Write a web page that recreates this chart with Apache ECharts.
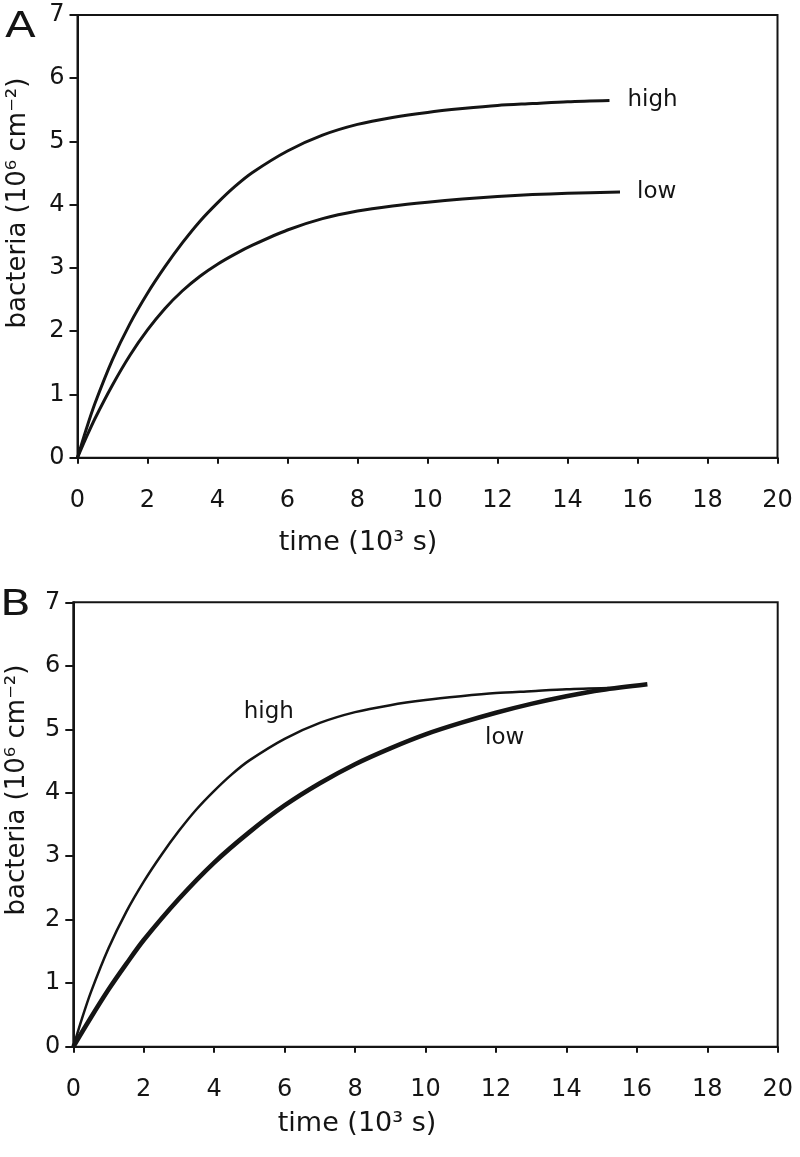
<!DOCTYPE html>
<html>
<head>
<meta charset="utf-8">
<script src="https://cdn.jsdelivr.net/npm/echarts@6/dist/echarts.min.js"></script>
<style>
html,body{margin:0;padding:0;background:#fff;}
#chart{width:800px;height:1157px;}
</style>
</head>
<body>
<div id="chart"></div>
<script>
// ---- data (time in 10^3 s, bacteria in 10^6 cm^-2) ----
const xTicks = [0, 2, 4, 6, 8, 10, 12, 14, 16, 18, 20];
const yTicks = [0, 1, 2, 3, 4, 5, 6, 7];

const timeHigh = [0, 0.25, 0.5, 1, 1.5, 2, 2.5, 3, 3.5, 4, 4.5, 5, 6, 7, 8, 9, 10, 11, 12, 13, 14, 15.2];
const valHigh  = [0, 0.45, 0.86, 1.55, 2.12, 2.6, 3.02, 3.4, 3.74, 4.03, 4.29, 4.51, 4.85, 5.1, 5.27, 5.38, 5.46, 5.52, 5.57, 5.6, 5.63, 5.65];

const timeLowA = [0, 0.25, 0.5, 1, 1.5, 2, 2.5, 3, 3.5, 4, 4.5, 5, 6, 7, 8, 9, 10, 11, 12, 13, 14, 15.5];
const valLowA  = [0, 0.32, 0.62, 1.15, 1.62, 2.02, 2.36, 2.64, 2.87, 3.06, 3.22, 3.36, 3.6, 3.78, 3.9, 3.98, 4.04, 4.09, 4.13, 4.16, 4.18, 4.2];

const timeLowB = [0, 0.5, 1, 1.5, 2, 3, 4, 5, 6, 7, 8, 9, 10, 11, 12, 13, 14, 15, 16.3];
const valLowB  = [0, 0.46, 0.9, 1.3, 1.68, 2.33, 2.9, 3.38, 3.8, 4.15, 4.45, 4.7, 4.92, 5.1, 5.26, 5.4, 5.52, 5.62, 5.71];

const seriesNames = ['high', 'low'];
// label anchor positions for panel B (data coordinates)
const labelHighB = [5.55, 5.27];
const labelLowB = [12.25, 4.86];

const panelLetters = ['A', 'B'];
const xTitle = 'time (10³ s)';
const yTitle = 'bacteria (10⁶ cm⁻²)';

// ---- chart ----
const FONT = 'DejaVu Sans';
const INK = '#141414';
const zip = (xs, ys) => xs.map((x, i) => [x, ys[i]]);

const grids = [
  {left: 77.5, top: 15, right: 22.5, bottom: 699.3},
  {left: 73.3, top: 602.3, right: 22.3, bottom: 110.3}
];

function xAxisFor(i) {
  return {
    type: 'value', gridIndex: i, min: 0, max: 20, interval: 2,
    axisLine: {show: true, onZero: false, lineStyle: {color: INK, width: 2}},
    axisTick: {show: true, length: 6, lineStyle: {color: INK, width: 2}},
    axisLabel: {color: INK, fontFamily: FONT, fontSize: 24, margin: 31},
    splitLine: {show: false}
  };
}
function yAxisFor(i) {
  return {
    type: 'value', gridIndex: i, min: 0, max: 7, interval: 1,
    axisLine: {show: true, onZero: false, lineStyle: {color: INK, width: 2}},
    axisTick: {show: true, length: 8, lineStyle: {color: INK, width: 2}},
    axisLabel: {color: INK, fontFamily: FONT, fontSize: 24, margin: 13},
    splitLine: {show: false}
  };
}

const endLabelStyle = {color: INK, fontFamily: FONT, fontSize: 23};

const option = {
  animation: false,
  backgroundColor: '#fff',
  grid: grids.map(g => Object.assign({show: true, borderColor: INK, borderWidth: 2, backgroundColor: 'transparent'}, g)),
  xAxis: [xAxisFor(0), xAxisFor(1)],
  yAxis: [yAxisFor(0), yAxisFor(1)],
  series: [
    {
      name: seriesNames[0], type: 'line', xAxisIndex: 0, yAxisIndex: 0,
      data: zip(timeHigh, valHigh), smooth: 0.3, showSymbol: false,
      lineStyle: {color: INK, width: 3},
      endLabel: Object.assign({show: true, formatter: seriesNames[0], distance: 18}, endLabelStyle)
    },
    {
      name: seriesNames[1], type: 'line', xAxisIndex: 0, yAxisIndex: 0,
      data: zip(timeLowA, valLowA), smooth: 0.3, showSymbol: false,
      lineStyle: {color: INK, width: 3},
      endLabel: Object.assign({show: true, formatter: seriesNames[1], distance: 17}, endLabelStyle)
    },
    {
      name: seriesNames[0] + ' B', type: 'line', xAxisIndex: 1, yAxisIndex: 1,
      data: zip(timeHigh, valHigh), smooth: 0.3, showSymbol: false,
      lineStyle: {color: INK, width: 2.5},
      markPoint: {
        symbol: 'circle', symbolSize: 0, silent: true,
        data: [{coord: labelHighB, value: seriesNames[0]}],
        label: {show: true, position: 'inside', formatter: seriesNames[0], color: INK, fontFamily: FONT, fontSize: 23}
      }
    },
    {
      name: seriesNames[1] + ' B', type: 'line', xAxisIndex: 1, yAxisIndex: 1,
      data: zip(timeLowB, valLowB), smooth: 0.3, showSymbol: false,
      lineStyle: {color: INK, width: 4.6},
      markPoint: {
        symbol: 'circle', symbolSize: 0, silent: true,
        data: [{coord: labelLowB, value: seriesNames[1]}],
        label: {show: true, position: 'inside', formatter: seriesNames[1], color: INK, fontFamily: FONT, fontSize: 23}
      }
    }
  ],
  graphic: [
    {type: 'text', x: 5, y: 10, scaleX: 1.25, style: {text: panelLetters[0], fontFamily: FONT, fontSize: 36, fill: INK}},
    {type: 'text', x: 0, y: 588, scaleX: 1.25, style: {text: panelLetters[1], fontFamily: FONT, fontSize: 36, fill: INK}},
    {type: 'text', x: 358, y: 543, style: {text: xTitle, fontFamily: FONT, fontSize: 27, fill: INK, align: 'center', verticalAlign: 'middle'}},
    {type: 'text', x: 357, y: 1124, style: {text: xTitle, fontFamily: FONT, fontSize: 27, fill: INK, align: 'center', verticalAlign: 'middle'}},
    {type: 'text', x: 18, y: 203, rotation: Math.PI / 2, style: {text: yTitle, fontFamily: FONT, fontSize: 26, fill: INK, align: 'center', verticalAlign: 'middle'}},
    {type: 'text', x: 17, y: 790, rotation: Math.PI / 2, style: {text: yTitle, fontFamily: FONT, fontSize: 26, fill: INK, align: 'center', verticalAlign: 'middle'}}
  ]
};

const chart = echarts.init(document.getElementById('chart'), null, {renderer: 'canvas'});
chart.setOption(option);
</script>
</body>
</html>
